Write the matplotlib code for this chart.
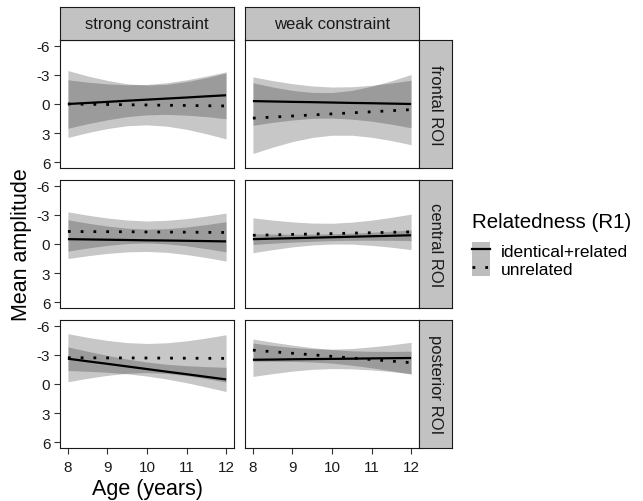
import matplotlib.pyplot as plt
from matplotlib.lines import Line2D
from matplotlib.patches import Patch
from matplotlib.legend_handler import HandlerTuple

plt.rcParams['font.family'] = ['Liberation Sans', 'DejaVu Sans']
plt.rcParams['axes.unicode_minus'] = False

ages = [8, 8.5, 9, 9.5, 10, 10.5, 11, 11.5, 12]
rois = ['frontal', 'central', 'posterior']
constraints = ['strong', 'weak']
x_ticks = [8, 9, 10, 11, 12]
y_ticks = [-6, -3, 0, 3, 6]
series_labels = ['identical+related', 'unrelated']

# fitted mean amplitude, identical+related (solid line)
fit_rel = {
    'frontal/strong': [0.0, -0.11, -0.22, -0.34, -0.45, -0.56, -0.67, -0.79, -0.9],
    'frontal/weak': [-0.3, -0.26, -0.22, -0.19, -0.15, -0.11, -0.08, -0.04, 0.0],
    'central/strong': [-0.5, -0.47, -0.44, -0.41, -0.38, -0.36, -0.33, -0.3, -0.27],
    'central/weak': [-0.5, -0.55, -0.6, -0.65, -0.7, -0.75, -0.8, -0.85, -0.9],
    'posterior/strong': [-2.61, -2.34, -2.08, -1.81, -1.54, -1.27, -1.01, -0.74, -0.47],
    'posterior/weak': [-2.5, -2.52, -2.55, -2.57, -2.59, -2.61, -2.64, -2.66, -2.68],
}
# half width of the confidence band, identical+related
ci_rel = {
    'frontal/strong': [2.5, 2.14, 1.85, 1.64, 1.57, 1.63, 1.82, 2.09, 2.42],
    'frontal/weak': [2.5, 2.15, 1.87, 1.67, 1.6, 1.67, 1.85, 2.12, 2.45],
    'central/strong': [2.0, 1.68, 1.41, 1.22, 1.15, 1.22, 1.42, 1.7, 2.03],
    'central/weak': [0.55, 0.47, 0.41, 0.37, 0.35, 0.37, 0.41, 0.47, 0.55],
    'posterior/strong': [1.22, 1.03, 0.87, 0.76, 0.72, 0.76, 0.88, 1.05, 1.25],
    'posterior/weak': [1.72, 1.45, 1.22, 1.06, 1.0, 1.05, 1.19, 1.38, 1.62],
}
# fitted mean amplitude, unrelated (dotted line)
fit_unrel = {
    'frontal/strong': [0.0, 0.03, 0.05, 0.08, 0.1, 0.13, 0.15, 0.18, 0.2],
    'frontal/weak': [1.46, 1.35, 1.24, 1.13, 1.02, 0.91, 0.8, 0.69, 0.58],
    'central/strong': [-1.29, -1.28, -1.27, -1.26, -1.24, -1.23, -1.22, -1.2, -1.19],
    'central/weak': [-0.9, -0.94, -0.99, -1.03, -1.07, -1.12, -1.16, -1.21, -1.25],
    'posterior/strong': [-2.71, -2.7, -2.69, -2.69, -2.68, -2.67, -2.66, -2.65, -2.64],
    'posterior/weak': [-3.49, -3.33, -3.17, -3.01, -2.85, -2.68, -2.52, -2.36, -2.2],
}
ci_unrel = {
    'frontal/strong': [3.45, 2.92, 2.48, 2.16, 2.05, 2.16, 2.46, 2.89, 3.4],
    'frontal/weak': [3.65, 3.1, 2.64, 2.32, 2.2, 2.31, 2.63, 3.08, 3.62],
    'central/strong': [2.03, 1.69, 1.41, 1.21, 1.13, 1.21, 1.4, 1.68, 2.0],
    'central/weak': [1.8, 1.52, 1.29, 1.13, 1.07, 1.13, 1.3, 1.54, 1.83],
    'posterior/strong': [2.48, 2.11, 1.8, 1.58, 1.5, 1.58, 1.79, 2.09, 2.44],
    'posterior/weak': [1.15, 0.98, 0.84, 0.74, 0.7, 0.74, 0.85, 1.0, 1.18],
}

W, H = 643, 502
col_x = [(60, 234), (245, 419)]
row_y = [(41, 169), (181, 309), (321, 449)]
strip_grey = '#c2c2c2'
dotted = (0, (1, 3.6))


def box(x0, y0, x1, y1):
    """pixel box (top-left origin) -> figure fraction rect"""
    return [x0 / W, 1 - y1 / H, (x1 - x0) / W, (y1 - y0) / H]


def strip(rect, label, rotation=0):
    s = fig.add_axes(rect)
    s.set_facecolor(strip_grey)
    s.set_xticks([])
    s.set_yticks([])
    for sp in s.spines.values():
        sp.set_color('#1a1a1a')
        sp.set_linewidth(0.8)
    s.text(0.5, 0.5, label, ha='center', va='center', rotation=rotation,
           fontsize=12, color='#1a1a1a', transform=s.transAxes)


fig = plt.figure(figsize=(W / 100, H / 100), dpi=100)

for i, roi in enumerate(rois):
    for j, con in enumerate(constraints):
        key = roi + '/' + con
        x0, x1 = col_x[j]
        y0, y1 = row_y[i]
        ax = fig.add_axes(box(x0, y0, x1, y1))

        for fit, ci in [(fit_rel, ci_rel), (fit_unrel, ci_unrel)]:
            lo = [f - c for f, c in zip(fit[key], ci[key])]
            hi = [f + c for f, c in zip(fit[key], ci[key])]
            ax.fill_between(ages, lo, hi, color='black', alpha=0.22, linewidth=0)
        ax.plot(ages, fit_rel[key], color='black', lw=1.6, solid_capstyle='butt')
        ax.plot(ages, fit_unrel[key], color='black', lw=2.0, linestyle=dotted,
                dash_capstyle='butt')

        ax.set_xlim(7.8, 12.2)
        ax.set_ylim(6.6, -6.6)
        ax.set_xticks(x_ticks)
        ax.set_yticks(y_ticks)
        ax.tick_params(length=4, width=0.8, color='#333333', labelsize=11,
                       labelcolor='#1a1a1a', pad=3)
        ax.tick_params(axis='x', pad=5)
        if j > 0:
            ax.tick_params(axis='y', left=False, labelleft=False)
        if i < len(rois) - 1:
            ax.tick_params(axis='x', bottom=False, labelbottom=False)
        for sp in ax.spines.values():
            sp.set_color('#1a1a1a')
            sp.set_linewidth(0.8)

        if i == 0:
            strip(box(x0, 8, x1, y0), con + ' constraint')
        if j == len(constraints) - 1:
            strip(box(x1, y0, x1 + 33, y1), roi + ' ROI', rotation=270)

fig.text(147 / W, 1 - 490 / H, 'Age (years)', ha='center', va='center', fontsize=15.5)
fig.text(22 / W, 1 - 245 / H, 'Mean amplitude', ha='center', va='center',
         rotation=90, fontsize=15.5)

# legend: title as plain text, keys = grey ribbon patch with the line on top
fig.text(472 / W, 1 - 222 / H, 'Relatedness (R1)', ha='left', va='center', fontsize=14.8)
handles = []
for ls, lw in [('-', 1.6), (dotted, 2.0)]:
    handles.append((Patch(facecolor='#bdbdbd', edgecolor='none'),
                    Line2D([], [], color='black', lw=lw, linestyle=ls, dash_capstyle='butt')))
leg = fig.legend(handles, series_labels, handler_map={tuple: HandlerTuple(ndivide=1)},
                 loc='upper left', bbox_to_anchor=(472 / W, 1 - 243 / H),
                 fontsize=12.5, frameon=False, handlelength=1.03, handleheight=1.12,
                 labelspacing=0.0, handletextpad=0.65, borderpad=0, borderaxespad=0)

fig.savefig('out.png', dpi=100)
